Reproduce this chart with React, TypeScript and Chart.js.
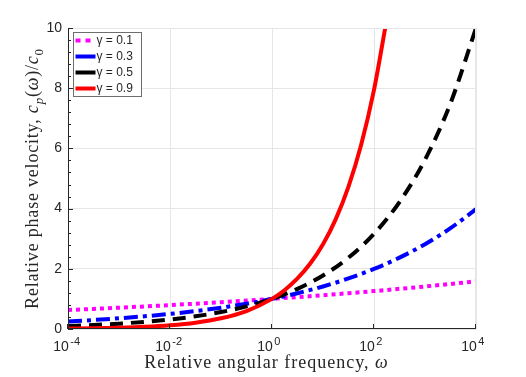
import React, { useEffect, useRef } from "react";
import { Chart, registerables } from "chart.js";

Chart.register(...registerables);

// ω grid (half-decade steps)
const omega = [1e-4, 3.16e-4, 1e-3, 3.16e-3, 1e-2, 3.16e-2, 0.1, 0.316, 1, 3.16, 10, 31.6, 100, 316, 1000, 3160, 1e4];
const gamma01 = [0.631, 0.668, 0.708, 0.75, 0.794, 0.841, 0.891, 0.944, 1, 1.059, 1.122, 1.189, 1.259, 1.334, 1.413, 1.496, 1.585];
const gamma03 = [0.251, 0.299, 0.355, 0.422, 0.501, 0.596, 0.708, 0.841, 1, 1.189, 1.413, 1.679, 1.995, 2.371, 2.818, 3.35, 3.981];
const gamma05 = [0.1, 0.133, 0.178, 0.237, 0.316, 0.422, 0.562, 0.75, 1, 1.334, 1.778, 2.371, 3.162, 4.217, 5.623, 7.499, 10];
const omegaRed = [1e-4, 3.16e-4, 1e-3, 3.16e-3, 1e-2, 3.16e-2, 0.1, 0.316, 1, 1.78, 3.16, 5.62, 10, 17.8, 31.6, 56.2, 100, 166];
const gamma09 = [0.016, 0.027, 0.045, 0.075, 0.126, 0.211, 0.355, 0.596, 1, 1.296, 1.679, 2.175, 2.818, 3.652, 4.732, 6.131, 7.943, 10];

const legendLabels = ["γ = 0.1", "γ = 0.3", "γ = 0.5", "γ = 0.9"];
const xTickValues = [1e-4, 1e-2, 1, 1e2, 1e4];
const xTickBase = "10";
const xTickExponents = ["-4", "-2", "0", "2", "4"];
const yTickValues = [0, 2, 4, 6, 8, 10];

const AXIS = "#262626";
const GRID = "#e6e6e6";
const SANS = "'Liberation Sans', Arial, Helvetica, sans-serif";
const SERIF = "'Liberation Serif', 'Times New Roman', serif";
const X_LABEL_OFFSET = -7;

const styles = [
  { color: "#ff00ff", dash: [4, 4] },
  { color: "#0000ff", dash: [14, 5, 4, 5] },
  { color: "#000000", dash: [13, 8] },
  { color: "#ff0000", dash: [] as number[] },
];

function pts(xs: number[], ys: number[]) {
  return xs.map((x, i) => ({ x, y: ys[i] }));
}

type Seg = { t: string; it?: boolean; sub?: boolean };

function drawSegs(ctx: any, segs: Seg[], size: number, cx: number, baseY: number, spacing: number) {
  const fontFor = (s: Seg) => `${s.it ? "italic " : ""}${s.sub ? Math.round(size * 0.7) : size}px ${SERIF}`;
  ctx.letterSpacing = `${spacing}px`;
  let total = 0;
  for (const s of segs) {
    ctx.font = fontFor(s);
    total += ctx.measureText(s.t).width;
  }
  let x = cx - total / 2;
  ctx.textAlign = "left";
  ctx.textBaseline = "alphabetic";
  for (const s of segs) {
    ctx.font = fontFor(s);
    ctx.fillText(s.t, x, baseY + (s.sub ? size * 0.25 : 0));
    x += ctx.measureText(s.t).width;
  }
  ctx.letterSpacing = "0px";
}

const decorPlugin = {
  id: "decor",
  afterDatasetsDraw(chart: any) {
    const ctx: CanvasRenderingContext2D = chart.ctx;
    const { left, right, top, bottom } = chart.chartArea;
    const xs = chart.scales.x;
    const ys = chart.scales.y;
    ctx.save();
    ctx.strokeStyle = GRID;
    ctx.lineWidth = 1;
    ctx.beginPath();
    ctx.moveTo(left, top + 0.5);
    ctx.lineTo(right, top + 0.5);
    ctx.moveTo(right - 0.5, top);
    ctx.lineTo(right - 0.5, bottom);
    ctx.stroke();
    ctx.strokeStyle = AXIS;
    ctx.beginPath();
    ctx.moveTo(left + 0.5, top);
    ctx.lineTo(left + 0.5, bottom);
    ctx.moveTo(left, bottom - 0.5);
    ctx.lineTo(right, bottom - 0.5);
    ctx.stroke();
    ctx.beginPath();
    for (let v = 0; v <= 10.001; v += 0.4) {
      const y = Math.round(ys.getPixelForValue(v)) + 0.5;
      const major = Math.abs(v / 2 - Math.round(v / 2)) < 1e-6;
      ctx.moveTo(left, y);
      ctx.lineTo(left + (major ? 5 : 3), y);
    }
    for (const v of xTickValues) {
      const x = Math.round(xs.getPixelForValue(v)) - 0.5;
      ctx.moveTo(x, bottom);
      ctx.lineTo(x, bottom - 5);
    }
    ctx.stroke();
    ctx.restore();
  },
  afterDraw(chart: any) {
    const ctx: any = chart.ctx;
    const { left, top, bottom } = chart.chartArea;
    const xs = chart.scales.x;
    ctx.save();
    // x tick exponents
    ctx.fillStyle = AXIS;
    ctx.font = `14px ${SANS}`;
    const baseW = ctx.measureText(xTickBase).width;
    ctx.font = `11px ${SANS}`;
    ctx.textAlign = "left";
    ctx.textBaseline = "alphabetic";
    xTickValues.forEach((v, i) => {
      const px = xs.getPixelForValue(v) + X_LABEL_OFFSET + baseW / 2 + 1.5;
      ctx.fillText(xTickExponents[i], px, bottom + 16);
    });
    // legend
    const bx = left + 5.5, by = top + 4.5, bw = 68, bh = 64;
    ctx.fillStyle = "#ffffff";
    ctx.fillRect(bx, by, bw, bh);
    ctx.strokeStyle = "#6e6e6e";
    ctx.lineWidth = 1;
    ctx.strokeRect(bx, by, bw, bh);
    ctx.font = `12px ${SANS}`;
    ctx.textBaseline = "middle";
    ctx.textAlign = "left";
    const rowY = [40, 56, 72, 88];
    styles.forEach((s, i) => {
      const y = rowY[i] + 0.5;
      ctx.strokeStyle = s.color;
      ctx.lineWidth = 4;
      ctx.lineCap = "butt";
      ctx.setLineDash(i === 0 ? [5, 5] : []);
      ctx.beginPath();
      ctx.moveTo(bx + 2, y);
      ctx.lineTo(bx + 22, y);
      ctx.stroke();
      ctx.setLineDash([]);
      ctx.fillStyle = AXIS;
      ctx.fillText(legendLabels[i], bx + 23, y);
    });
    // axis titles
    ctx.fillStyle = AXIS;
    drawSegs(ctx, [{ t: "Relative angular frequency, " }, { t: "ω", it: true }], 18, 266.5, 368, 1);
    ctx.save();
    ctx.translate(38, 178.5);
    ctx.rotate(-Math.PI / 2);
    drawSegs(
      ctx,
      [
        { t: "Relative phase velocity, " },
        { t: "c", it: true },
        { t: "p", it: true, sub: true },
        { t: "(" },
        { t: "ω", it: true },
        { t: ")/" },
        { t: "c", it: true },
        { t: "0", sub: true },
      ],
      18,
      0,
      0,
      0.8
    );
    ctx.restore();
    ctx.restore();
  },
};

export default function App() {
  const ref = useRef<HTMLCanvasElement>(null);
  useEffect(() => {
    if (!ref.current) return;
    const mk = (label: string, data: any[], i: number, order: number) => ({
      label,
      data,
      borderColor: styles[i].color,
      backgroundColor: styles[i].color,
      borderWidth: 4,
      borderDash: styles[i].dash,
      borderCapStyle: "butt",
      pointRadius: 0,
      cubicInterpolationMode: "monotone",
      fill: false,
      clip: 0,
      order,
    });
    const chart = new Chart(ref.current, {
      type: "line",
      data: {
        datasets: [
          mk(legendLabels[0], pts(omega, gamma01), 0, 4),
          mk(legendLabels[1], pts(omega, gamma03), 1, 3),
          mk(legendLabels[2], pts(omega, gamma05), 2, 2),
          mk(legendLabels[3], pts(omegaRed, gamma09), 3, 1),
        ] as any,
      },
      options: {
        animation: false,
        responsive: true,
        maintainAspectRatio: false,
        layout: { padding: { top: 28, right: 50, left: 0, bottom: 0 } },
        plugins: { legend: { display: false }, tooltip: { enabled: false } },
        scales: {
          x: {
            type: "logarithmic",
            min: 1e-4,
            max: 1e4,
            afterBuildTicks: (scale: any) => {
              scale.ticks = xTickValues.map((v) => ({ value: v }));
            },
            afterFit: (scale: any) => {
              scale.height = 48;
            },
            ticks: {
              autoSkip: false,
              maxRotation: 0,
              padding: 10,
              labelOffset: X_LABEL_OFFSET,
              color: AXIS,
              font: { family: SANS, size: 14 },
              callback: () => xTickBase,
            },
            grid: { color: GRID, drawTicks: false },
            border: { display: false },
          },
          y: {
            type: "linear",
            min: 0,
            max: 10,
            afterBuildTicks: (scale: any) => {
              scale.ticks = yTickValues.map((v) => ({ value: v }));
            },
            afterFit: (scale: any) => {
              scale.width = 68;
            },
            ticks: {
              padding: 6,
              color: AXIS,
              font: { family: SANS, size: 14 },
            },
            grid: { color: GRID, drawTicks: false },
            border: { display: false },
          },
        },
      },
      plugins: [decorPlugin],
    } as any);
    return () => chart.destroy();
  }, []);
  return (
    <div style={{ position: "fixed", left: 0, top: 0, width: 526, height: 377, background: "#fff" }}>
      <canvas ref={ref} />
    </div>
  );
}
